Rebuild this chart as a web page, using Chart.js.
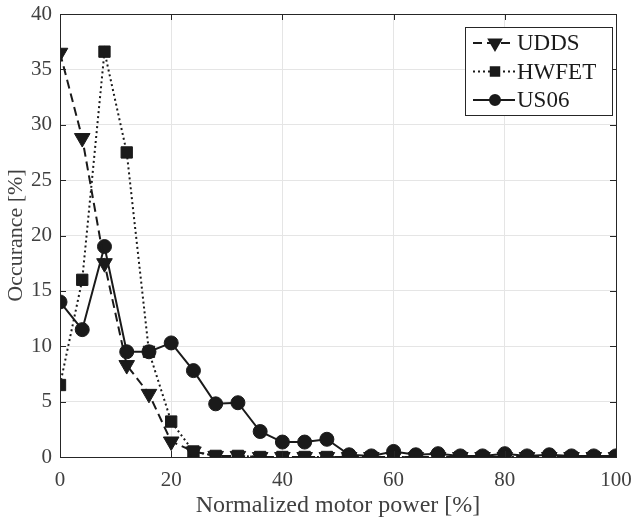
<!DOCTYPE html>
<html>
<head>
<meta charset="utf-8">
<script src="https://cdn.jsdelivr.net/npm/chart.js@4"></script>
<style>
  body { margin: 0; background: #fff; }
  #wrap { width: 631px; height: 521px; }
</style>
</head>
<body>
<div id="wrap"><canvas id="chart" width="631" height="521"></canvas></div>
<script>
// x positions (normalized motor power, %)
const powerLevels = [0, 4, 8, 12, 16, 20, 24, 28, 32, 36, 40, 44, 48, 52, 56, 60, 64, 68, 72, 76, 80, 84, 88, 92, 96, 100];
// occurrence [%] per drive cycle
const uddsValues  = [36.5, 28.8, 17.5, 8.3, 5.7, 1.4, 0.5, 0.1, 0.1, 0.0, 0.0, 0.0, 0.0, 0.0, 0.0, 0.0, 0.0, 0.0, 0.0, 0.0, 0.0, 0.0, 0.0, 0.0, 0.0, 0.0];
const hwfetValues = [6.5, 16.0, 36.6, 27.5, 9.5, 3.2, 0.5, 0.1, 0.1, 0.0, 0.0, 0.0, 0.0, 0.0, 0.0, 0.0, 0.0, 0.0, 0.0, 0.0, 0.0, 0.0, 0.0, 0.0, 0.0, 0.0];
const us06Values  = [14.0, 11.5, 19.0, 9.5, 9.5, 10.3, 7.8, 4.8, 4.9, 2.3, 1.35, 1.35, 1.6, 0.2, 0.1, 0.5, 0.2, 0.3, 0.1, 0.1, 0.3, 0.1, 0.2, 0.1, 0.1, 0.1];
const seriesNames = ["UDDS", "HWFET", "US06"];
const xTicks = [0, 20, 40, 60, 80, 100];
const yTicks = [0, 5, 10, 15, 20, 25, 30, 35, 40];

const INK = "#1a1a1a";
const AXIS = "#262626";
const LABEL = "#404040";
const FONT = "'Liberation Serif', 'Times New Roman', serif";

function toPoints(vals) {
  return vals.map((v, i) => ({ x: powerLevels[i], y: v }));
}

// box around plot + inward ticks (matlab style)
const boxPlugin = {
  id: "box",
  afterDraw(chart) {
    const { ctx, chartArea: a, scales } = chart;
    ctx.save();
    ctx.strokeStyle = AXIS;
    ctx.lineWidth = 1;
    ctx.strokeRect(a.left + 0.5, a.top + 0.5, a.right - a.left, a.bottom - a.top);
    ctx.beginPath();
    xTicks.forEach(t => {
      const px = Math.round(scales.x.getPixelForValue(t)) + 0.5;
      ctx.moveTo(px, a.top); ctx.lineTo(px, a.top + 6);
      ctx.moveTo(px, a.bottom); ctx.lineTo(px, a.bottom - 6);
    });
    yTicks.forEach(t => {
      const py = Math.round(scales.y.getPixelForValue(t)) + 0.5;
      ctx.moveTo(a.right, py); ctx.lineTo(a.right - 6, py);
      ctx.moveTo(a.left, py); ctx.lineTo(a.left + 6, py);
    });
    ctx.stroke();
    ctx.restore();
  }
};

// legend box drawn by hand so the line styles show
const legendPlugin = {
  id: "matlabLegend",
  afterDraw(chart) {
    const { ctx, chartArea: a } = chart;
    const w = 147, h = 88;
    const x0 = a.right - w - 4, y0 = a.top + 13;
    ctx.save();
    ctx.fillStyle = "#fff";
    ctx.fillRect(x0, y0, w, h);
    ctx.strokeStyle = AXIS;
    ctx.lineWidth = 1;
    ctx.strokeRect(x0 + 0.5, y0 + 0.5, w, h);
    ctx.font = "23px " + FONT;
    ctx.textBaseline = "middle";
    chart.data.datasets.forEach((ds, i) => {
      const cy = y0 + 16 + i * 28.5;
      ctx.strokeStyle = INK;
      ctx.lineWidth = 2;
      ctx.setLineDash(ds.borderDash || []);
      ctx.beginPath();
      ctx.moveTo(x0 + 8, cy); ctx.lineTo(x0 + 50, cy);
      ctx.stroke();
      ctx.setLineDash([]);
      ctx.fillStyle = INK;
      Chart.helpers.drawPoint(ctx, {
        pointStyle: ds.pointStyle, rotation: ds.pointRotation || 0,
        radius: ds.pointRadius - 2, borderWidth: 1
      }, x0 + 30, cy);
      ctx.fill();
      ctx.fillText(ds.label, x0 + 52, cy + 1);
    });
    ctx.restore();
  }
};

new Chart(document.getElementById("chart"), {
  type: "line",
  data: {
    datasets: [
      {
        label: seriesNames[0], data: toPoints(uddsValues),
        borderColor: INK, backgroundColor: INK, borderWidth: 2,
        borderDash: [9, 5], pointStyle: "triangle", pointRotation: 180,
        pointRadius: 9, pointBorderWidth: 1
      },
      {
        label: seriesNames[1], data: toPoints(hwfetValues),
        borderColor: INK, backgroundColor: INK, borderWidth: 2,
        borderDash: [2, 3], pointStyle: "rect",
        pointRadius: 8, pointBorderWidth: 1
      },
      {
        label: seriesNames[2], data: toPoints(us06Values),
        borderColor: INK, backgroundColor: INK, borderWidth: 2,
        pointStyle: "circle", pointRadius: 7, pointBorderWidth: 1
      }
    ]
  },
  options: {
    responsive: false,
    animation: false,
    layout: { padding: { top: 14, right: 15, left: 0, bottom: 0 } },
    plugins: { legend: { display: false }, tooltip: { enabled: false } },
    scales: {
      x: {
        type: "linear", min: 0, max: 100,
        afterBuildTicks: s => { s.ticks = xTicks.map(v => ({ value: v })); },
        afterFit: s => { s.height = 64; s.paddingLeft = 0; s.paddingRight = 0; },
        grid: { color: "#e5e5e5", drawTicks: false },
        border: { display: false },
        ticks: { color: LABEL, font: { family: FONT, size: 21 }, padding: 11 },
        title: { display: true, text: "Normalized motor power [%]", color: LABEL, font: { family: FONT, size: 24 }, padding: { top: 0, bottom: 1 } }
      },
      y: {
        type: "linear", min: 0, max: 40,
        afterBuildTicks: s => { s.ticks = yTicks.map(v => ({ value: v })); },
        afterFit: s => { s.width = 60; s.paddingTop = 0; s.paddingBottom = 0; },
        grid: { color: "#e5e5e5", drawTicks: false },
        border: { display: false },
        ticks: { color: LABEL, font: { family: FONT, size: 21 }, padding: 8 },
        title: { display: true, text: "Occurance [%]", color: LABEL, font: { family: FONT, size: 22 }, padding: { top: 3, bottom: 0 } }
      }
    }
  },
  plugins: [boxPlugin, legendPlugin]
});
</script>
</body>
</html>
